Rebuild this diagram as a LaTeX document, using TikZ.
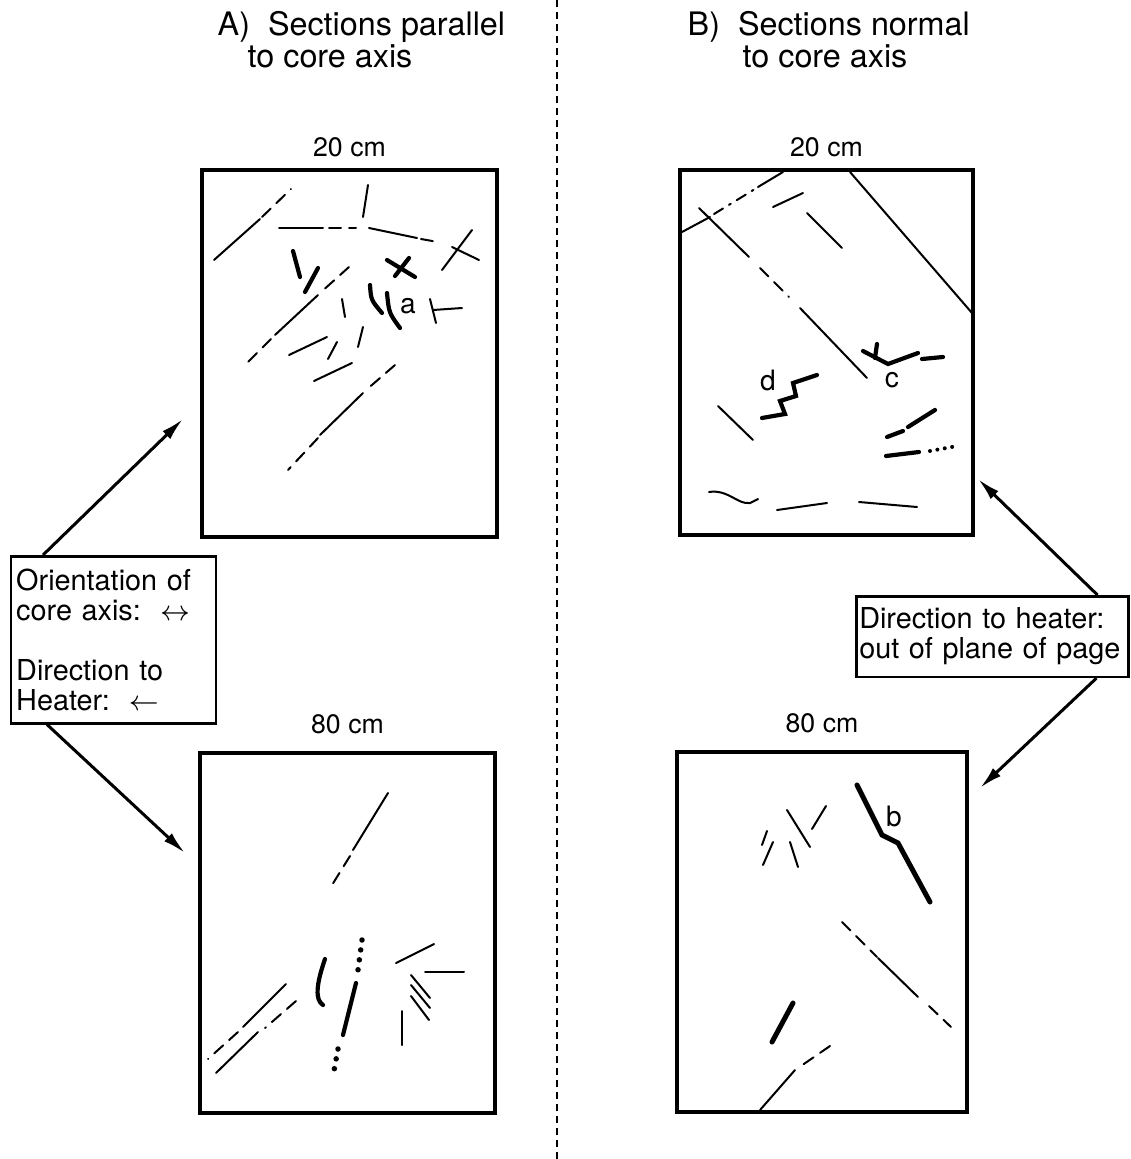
\documentclass[tikz,border=0pt]{standalone}
\usepackage{fontspec}
\setmainfont{TeX Gyre Heros}
\usetikzlibrary{positioning,arrows.meta}

\tikzset{
  corebox/.style={draw, line width=0.35mm, inner sep=0pt},
  heading/.style={inner sep=0pt, anchor=base west, font=\fontsize{9.2}{9.2}\selectfont},
  depthlabel/.style={inner sep=0pt, font=\fontsize{7.6}{8}\selectfont},
  tag/.style={inner sep=0pt, font=\fontsize{8}{8}\selectfont},
  note/.style={draw, line width=0.25mm, align=left, anchor=north west, font=\fontsize{8.2}{8.5}\selectfont},
  pointer/.style={line width=0.3mm, -{Latex[length=2.3mm,width=1.1mm]}},
  crack/.style={line width=0.2mm, line cap=round},
  wide/.style={line width=0.42mm, line cap=round},
  trace/.style={dash pattern=on 1.2mm off 0.8mm},
  beads/.style={line width=0.55mm, line cap=round, dash pattern=on 0pt off 1mm},
}

\begin{document}
\begin{tikzpicture}[x=0.1mm,y=-0.1mm]

\useasboundingbox (0,0) rectangle (1130,1159);

% divider between the two sets of sections
\draw [line width=0.2mm, dash pattern=on 0.7mm off 0.5mm] (557,0) -- (557,1159);

\node [heading] (titleA) at (217,35) {A)\ \ Sections parallel};
\node [heading] (titleAsub) at (247,67) {to core axis};
\node [heading] (titleB) at (687,35) {B)\ \ Sections normal};
\node [heading] (titleBsub) at (742,67) {to core axis};

% the four thin sections
\node [corebox, minimum width=29.5mm, minimum height=36.7mm] (secA20) at (349.5,353.5) {};
\node [corebox, minimum width=29.3mm, minimum height=36.5mm] (secB20) at (826.5,352.5) {};
\node [corebox, minimum width=29.5mm, minimum height=36mm] (secA80) at (347.5,933) {};
\node [corebox, minimum width=29mm, minimum height=36mm] (secB80) at (822,932) {};

\node [depthlabel, above=1.1mm of secA20] (depthA20) {20 cm};
\node [depthlabel, above=1.1mm of secB20] (depthB20) {20 cm};
\node [depthlabel, above=1.7mm of secA80] (depthA80) {80 cm};
\node [depthlabel, above=1.7mm of secB80] (depthB80) {80 cm};

% notes and pointers
\node [note, text width=19.5mm, inner xsep=0.5mm, minimum height=16.7mm] (axisnote) at (10,555)
  {Orientation of\\core axis:\ \ $\leftrightarrow$\\[8.5pt]Direction to\\Heater:\ \ $\leftarrow$};
\node [note, text width=26.6mm, inner xsep=0.3mm, minimum height=8mm] (heaternote) at (855,595)
  {Direction to heater:\\out of plane of page};

\coordinate (toA20) at (183,419);
\coordinate (toA80) at (185,853);
\coordinate (toB20) at (978,479);
\coordinate (toB80) at (980,788);

\draw [pointer] ([xshift=3.3mm]axisnote.north west) -- (toA20);
\draw [pointer] ([xshift=3.7mm]axisnote.south west) -- (toA80);
\draw [pointer] ([xshift=-3.2mm]heaternote.north east) -- (toB20);
\draw [pointer] ([xshift=-3.3mm]heaternote.south east) -- (toB80);

% A, 20 cm
\draw [crack] (214,260) -- (260,219);
\draw [crack, trace] (262,217) -- (291,189);
\draw [crack] (363,217) -- (368,185);
\draw [crack] (279,228) -- (323,228);
\draw [crack, trace] (329,228) -- (356,228);
\draw [crack] (369,228) -- (417,238);
\draw [crack, trace] (421,239) -- (438,242);
\draw [crack] (442,270) -- (472,230);
\draw [crack] (452,247) -- (479,260);
\draw [wide] (293,251) -- (300,277);
\draw [wide] (318,268) -- (305,292);
\draw [wide] (387,260) -- (415,277);
\draw [wide] (409,258) -- (395,276);
\draw [crack, trace] (349,267) -- (320,293);
\draw [crack] (318,295) -- (275,335);
\draw [crack, trace] (271,339) -- (243,367);
\draw [crack] (342,299) -- (345,317);
\draw [wide] (370,285) .. controls (371,300) .. (382,313);
\draw [wide] (387,293) .. controls (389,313) .. (400,328);
\node [tag] (tagA) at (408,306) {a};
\draw [crack] (433,310) -- (462,308);
\draw [crack] (430,299) -- (436,323);
\draw [crack] (289,355) -- (327,337);
\draw [crack] (328,359) -- (337,342);
\draw [crack] (358,347) -- (363,327);
\draw [crack] (314,381) -- (352,363);
\draw [crack, trace] (395,365) -- (365,391);
\draw [crack] (363,393) -- (320,435);
\draw [crack, trace] (318,438) -- (288,470);

% B, 20 cm
\draw [crack] (682,232) -- (710,217);
\draw [crack, dash dot] (714,214) -- (755,189);
\draw [crack] (758,187) -- (783,172);
\draw [crack] (773,207) -- (803,193);
\draw [crack] (807,213) -- (842,248);
\draw [crack] (699,208) -- (749,257);
\draw [crack, trace] (760,268) -- (789,297);
\draw [crack] (800,308) -- (867,378);
\draw [crack] (850,172) -- (972,313);
\draw [wide] (863,351) -- (888,364) -- (918,353);
\draw [wide] (877,344) -- (875,358);
\draw [wide] (922,359) -- (943,357);
\node [tag] (tagC) at (892,380) {c};
\node [tag] (tagD) at (768,380) {d};
\draw [wide] (762,418) -- (785,414) -- (780,401) -- (796,396) -- (793,383) -- (817,375);
\draw [crack] (718,406) -- (753,440);
\draw [wide] (887,437) -- (903,431);
\draw [wide] (908,427) -- (935,410);
\draw [wide] (886,456) -- (919,452);
\draw [beads, line width=0.4mm, dash pattern=on 0pt off 0.75mm] (930,451) -- (957,446);
\draw [crack] (709,492) .. controls (728,489) and (738,505) .. (750,503) -- (758,499);
\draw [crack] (777,510) -- (827,503);
\draw [crack] (859,502) -- (917,507);

% A, 80 cm
\draw [crack] (388,793) -- (353,850);
\draw [crack, trace] (350,856) -- (332,885);
\draw [wide] (325,959) .. controls (316,985) and (315,1000) .. (323,1005);
\draw [beads] (362,940) -- (358,970);
\draw [wide] (356,983) -- (343,1035);
\draw [beads] (338,1049) -- (333,1076);
\draw [crack] (286,984) -- (243,1027);
\draw [crack, trace] (238,1032) -- (208,1059);
\draw [crack, trace] (296,1001) -- (265,1028);
\draw [crack] (258,1032) -- (216,1073);
\draw [crack] (396,963) -- (434,944);
\draw [crack] (425,972) -- (464,972);
\draw [crack] (411,975) -- (430,998);
\draw [crack] (411,985) -- (430,1008);
\draw [crack] (411,996) -- (429,1020);
\draw [crack] (402,1011) -- (402,1045);

% B, 80 cm
\draw [wide, line width=0.5mm] (857,785) -- (882,835) -- (898,843) -- (930,902);
\node [tag] (tagB) at (894,816) {b};
\draw [crack] (787,810) -- (810,847);
\draw [crack] (826,806) -- (812,829);
\draw [crack] (767,831) -- (762,845);
\draw [crack] (773,842) -- (763,865);
\draw [crack] (790,842) -- (798,867);
\draw [crack, trace] (842,922) -- (877,957);
\draw [crack] (878,958) -- (918,997);
\draw [crack, trace] (929,1006) -- (951,1027);
\draw [wide, line width=0.5mm] (793,1003) -- (772,1042);
\draw [crack, trace] (830,1046) -- (798,1068);
\draw [crack] (795,1070) -- (760,1110);

\end{tikzpicture}
\end{document}
